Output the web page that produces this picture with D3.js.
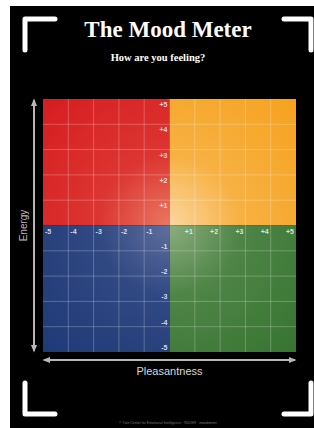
<!DOCTYPE html>
<html>
<head>
<meta charset="utf-8">
<script src="https://cdn.jsdelivr.net/npm/d3@7"></script>
<style>
  html, body { margin: 0; padding: 0; background: #fff; }
  svg { display: block; }
</style>
</head>
<body>
<svg id="chart" width="314" height="428"></svg>
<script>
// Mood meter axes: pleasantness (x) and energy (y), -5..+5
const xTicks = [-5, -4, -3, -2, -1, 1, 2, 3, 4, 5];
const yTicks = [-5, -4, -3, -2, -1, 1, 2, 3, 4, 5];
const gridValues = [-4, -3, -2, -1, 1, 2, 3, 4];

// quadrants: [x0, x1, y0, y1]
const quadrantNames = ["red", "yellow", "blue", "green"];
const quadrantX = [[-5, 0], [0, 5], [-5, 0], [0, 5]];
const quadrantY = [[0, 5], [0, 5], [-5, 0], [-5, 0]];
const quadrantInner = ["#ea7862", "#fbd6a0", "#5f6f9e", "#8cad7e"];
const quadrantOuter = ["#d61d1f", "#f6a21f", "#1f3a78", "#377531"];

const title = "The Mood Meter";
const subtitle = "How are you feeling?";
const xLabel = "Pleasantness";
const yLabel = "Energy";
const footer = "© Yale Center for Emotional Intelligence · RULER · moodmeter";

const svg = d3.select("#chart");

// black poster with white margin top/left
svg.append("rect").attr("x", 10).attr("y", 6).attr("width", 304).attr("height", 422).attr("fill", "#000");

const x = d3.scaleLinear().domain([-5, 5]).range([43, 296]);
const y = d3.scaleLinear().domain([-5, 5]).range([352, 99]);
const cx = x(0), cy = y(0);

// gradients
const defs = svg.append("defs");
quadrantNames.forEach((name, i) => {
  const g = defs.append("radialGradient")
    .attr("id", "g-" + name)
    .attr("gradientUnits", "userSpaceOnUse")
    .attr("cx", cx).attr("cy", cy).attr("r", 175);
  g.append("stop").attr("offset", 0).attr("stop-color", quadrantInner[i]);
  g.append("stop").attr("offset", 0.4).attr("stop-color", d3.interpolateRgb(quadrantInner[i], quadrantOuter[i])(0.72));
  g.append("stop").attr("offset", 1).attr("stop-color", quadrantOuter[i]);
});

svg.append("g").selectAll("rect")
  .data(quadrantNames)
  .join("rect")
  .attr("x", (d, i) => x(quadrantX[i][0]))
  .attr("y", (d, i) => y(quadrantY[i][1]))
  .attr("width", (d, i) => x(quadrantX[i][1]) - x(quadrantX[i][0]))
  .attr("height", (d, i) => y(quadrantY[i][0]) - y(quadrantY[i][1]))
  .attr("fill", d => `url(#g-${d})`);

// grid
const grid = svg.append("g")
  .attr("stroke", "#fff")
  .attr("stroke-opacity", 0.3)
  .attr("stroke-width", 0.8);
grid.selectAll(".gx").data(gridValues).join("line")
  .attr("x1", d => x(d)).attr("x2", d => x(d))
  .attr("y1", y(5)).attr("y2", y(-5));
grid.selectAll(".gy").data(gridValues).join("line")
  .attr("y1", d => y(d)).attr("y2", d => y(d))
  .attr("x1", x(-5)).attr("x2", x(5));

// tick labels
const tickStyle = sel => sel
  .attr("fill", "#fff")
  .attr("fill-opacity", 0.8)
  .attr("font-family", "Liberation Sans, Arial, sans-serif")
  .attr("font-weight", "bold")
  .attr("font-size", 7);
const fmt = d => (d > 0 ? "+" : "") + d;

svg.append("g").call(tickStyle).selectAll("text")
  .data(xTicks).join("text")
  .attr("x", d => d < 0 ? x(d) + 2 : x(d) - 2)
  .attr("y", cy + 8)
  .attr("text-anchor", d => d < 0 ? "start" : "end")
  .text(fmt);

svg.append("g").call(tickStyle).selectAll("text")
  .data(yTicks).join("text")
  .attr("x", cx - 2)
  .attr("y", d => d > 0 ? y(d) + 8 : y(d) - 2)
  .attr("text-anchor", "end")
  .text(fmt);

// arrows
const arrowColor = "#b8b8b8";
defs.append("marker")
  .attr("id", "arrow")
  .attr("viewBox", "0 0 10 10")
  .attr("refX", 8).attr("refY", 5)
  .attr("markerWidth", 4).attr("markerHeight", 4)
  .attr("orient", "auto-start-reverse")
  .append("path").attr("d", "M0,1 L10,5 L0,9 Z").attr("fill", arrowColor);

svg.append("line")
  .attr("x1", 34).attr("x2", 34)
  .attr("y1", y(5) + 1).attr("y2", y(-5) - 1)
  .attr("stroke", arrowColor).attr("stroke-width", 2)
  .attr("marker-start", "url(#arrow)").attr("marker-end", "url(#arrow)");

svg.append("line")
  .attr("y1", 360).attr("y2", 360)
  .attr("x1", x(-5) + 1).attr("x2", x(5) - 1)
  .attr("stroke", arrowColor).attr("stroke-width", 2)
  .attr("marker-start", "url(#arrow)").attr("marker-end", "url(#arrow)");

svg.append("text")
  .attr("transform", `translate(27,${cy}) rotate(-90)`)
  .attr("text-anchor", "middle")
  .attr("fill", "#bdbdbd")
  .attr("font-family", "Liberation Sans, Arial, sans-serif")
  .attr("font-size", 10)
  .text(yLabel);

svg.append("text")
  .attr("x", cx).attr("y", 375)
  .attr("text-anchor", "middle")
  .attr("fill", "#d8d8d8")
  .attr("font-family", "Liberation Sans, Arial, sans-serif")
  .attr("font-size", 11)
  .text(xLabel);

// title
svg.append("text")
  .attr("x", 168).attr("y", 37)
  .attr("text-anchor", "middle")
  .attr("fill", "#fff")
  .attr("font-family", "Liberation Serif, DejaVu Serif, serif")
  .attr("font-weight", "bold")
  .attr("font-size", 23)
  .text(title);

svg.append("text")
  .attr("x", 158).attr("y", 61)
  .attr("text-anchor", "middle")
  .attr("fill", "#fff")
  .attr("font-family", "Liberation Serif, DejaVu Serif, serif")
  .attr("font-weight", "bold")
  .attr("font-size", 10.5)
  .text(subtitle);

svg.append("text")
  .attr("x", 168).attr("y", 424)
  .attr("text-anchor", "middle")
  .attr("fill", "#777")
  .attr("font-family", "Liberation Sans, Arial, sans-serif")
  .attr("font-size", 3.5)
  .text(footer);

// corner brackets
const bracket = [
  "M25,50 L25,19 L55,19",
  "M284,19 L311,19 L311,50",
  "M25,383 L25,414 L55,414",
  "M284,414 L311,414 L311,383"
];
svg.append("g").selectAll("path")
  .data(bracket).join("path")
  .attr("d", d => d)
  .attr("fill", "none")
  .attr("stroke", "#fff")
  .attr("stroke-width", 5)
  .attr("stroke-linecap", "round")
  .attr("stroke-linejoin", "round");
</script>
</body>
</html>
